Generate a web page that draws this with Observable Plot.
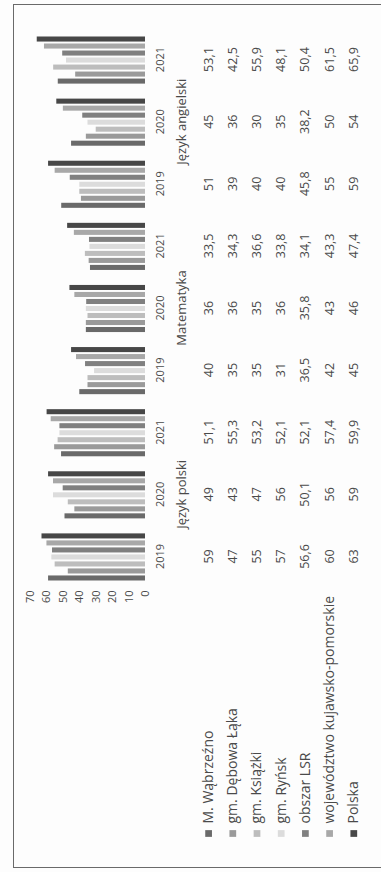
<!DOCTYPE html>
<html>
<head>
<meta charset="utf-8">
<script src="https://cdn.jsdelivr.net/npm/d3@7"></script>
<script src="https://cdn.jsdelivr.net/npm/@observablehq/plot@0.6"></script>
<style>
  html, body { margin: 0; padding: 0; background: #fdfdfd; }
  #page { position: relative; width: 381px; height: 872px; overflow: hidden; background: #fdfdfd; }
  #upright { position: absolute; left: 0; top: 0; width: 872px; height: 381px;
    transform-origin: 0 0; transform: translate(0px, 872px) rotate(-90deg); }
  #frame { position: absolute; left: 4px; top: 13px; width: 864px; height: 420px;
    border: 1.5px solid #6a6a6a; box-sizing: border-box; }
  #upright svg { display: block; position: absolute; left: 0; max-width: none !important; }
</style>
</head>
<body>
<div id="page"><div id="upright"><div id="frame"></div></div></div>
<script>
// ---- data ----
const series = ["M. Wąbrzeźno", "gm. Dębowa Łąka", "gm. Książki", "gm. Ryńsk", "obszar LSR", "województwo kujawsko-pomorskie", "Polska"];
const subjects = ["Język polski", "Matematyka", "Język angielski"];
const years = ["2019", "2020", "2021"];
const yTicks = [0, 10, 20, 30, 40, 50, 60, 70];

const valWabrzezno   = [59, 49, 51.1, 40, 36, 33.5, 51, 45, 53.1];
const valDebowaLaka  = [47, 43, 55.3, 35, 36, 34.3, 39, 36, 42.5];
const valKsiazki     = [55, 47, 53.2, 35, 35, 36.6, 40, 30, 55.9];
const valRynsk       = [57, 56, 52.1, 31, 36, 33.8, 40, 35, 48.1];
const valLSR         = [56.6, 50.1, 52.1, 36.5, 35.8, 34.1, 45.8, 38.2, 50.4];
const valWojewodztwo = [60, 56, 57.4, 42, 43, 43.3, 55, 50, 61.5];
const valPolska      = [63, 59, 59.9, 45, 46, 47.4, 59, 54, 65.9];

const colors = ["#6a6a6a", "#9a9a9a", "#bdbdbd", "#dcdcdc", "#808080", "#a8a8a8", "#474747"];

// ---- build tables ----
const valuesBySeries = [valWabrzezno, valDebowaLaka, valKsiazki, valRynsk, valLSR, valWojewodztwo, valPolska];
const columns = subjects.flatMap(s => years.map(y => s + " " + y));
const cells = series.flatMap((name, i) => valuesBySeries[i].map((v, j) => ({series: name, col: columns[j], value: v})));
const fmt = v => String(v).replace(".", ",");

const font = {fontFamily: "'Open Sans', sans-serif", fontSize: "11px", color: "#4a4a4a", background: "transparent", overflow: "visible"};

const chart = Plot.plot({
  width: 872, height: 195,
  marginTop: 30, marginBottom: 50, marginLeft: 284, marginRight: 29,
  style: font,
  fx: {domain: columns, paddingInner: 0, paddingOuter: 0, round: false, axis: null, label: null},
  x: {domain: series, axis: null, round: false, paddingInner: 0.28, paddingOuter: 1.07},
  y: {domain: [0, 70], ticks: yTicks, tickSize: 0, tickPadding: 3, label: null},
  color: {domain: series, range: colors},
  marks: [
    Plot.barY(cells, {fx: "col", x: "series", y: "value", fill: "series"}),
    Plot.text(columns, {fx: d => d, text: d => d.slice(-4), frameAnchor: "bottom", dy: 18}),
    Plot.text(subjects, {fx: s => s + " 2020", text: d => d, frameAnchor: "bottom", dy: 40, fontSize: 13})
  ]
});

const table = Plot.plot({
  width: 872, height: 186,
  marginTop: 1, marginBottom: 15.6, marginLeft: 284, marginRight: 29,
  style: {...font, fontSize: "12.5px"},
  x: {type: "band", domain: columns, axis: null, padding: 0, round: false},
  y: {type: "band", domain: series, axis: null, padding: 0, round: false},
  color: {domain: series, range: colors},
  marks: [
    Plot.text(cells, {x: "col", y: "series", text: d => fmt(d.value)}),
    Plot.dot(series, {y: d => d, fill: d => d, symbol: "square", r: 3.8, frameAnchor: "left", dx: -246}),
    Plot.text(series, {y: d => d, text: d => d, frameAnchor: "left", textAnchor: "start", dx: -236, fontSize: 14})
  ]
});

chart.style.top = "0px";
table.style.top = "195px";
const up = document.getElementById("upright");
up.appendChild(chart);
up.appendChild(table);
</script>
</body>
</html>
